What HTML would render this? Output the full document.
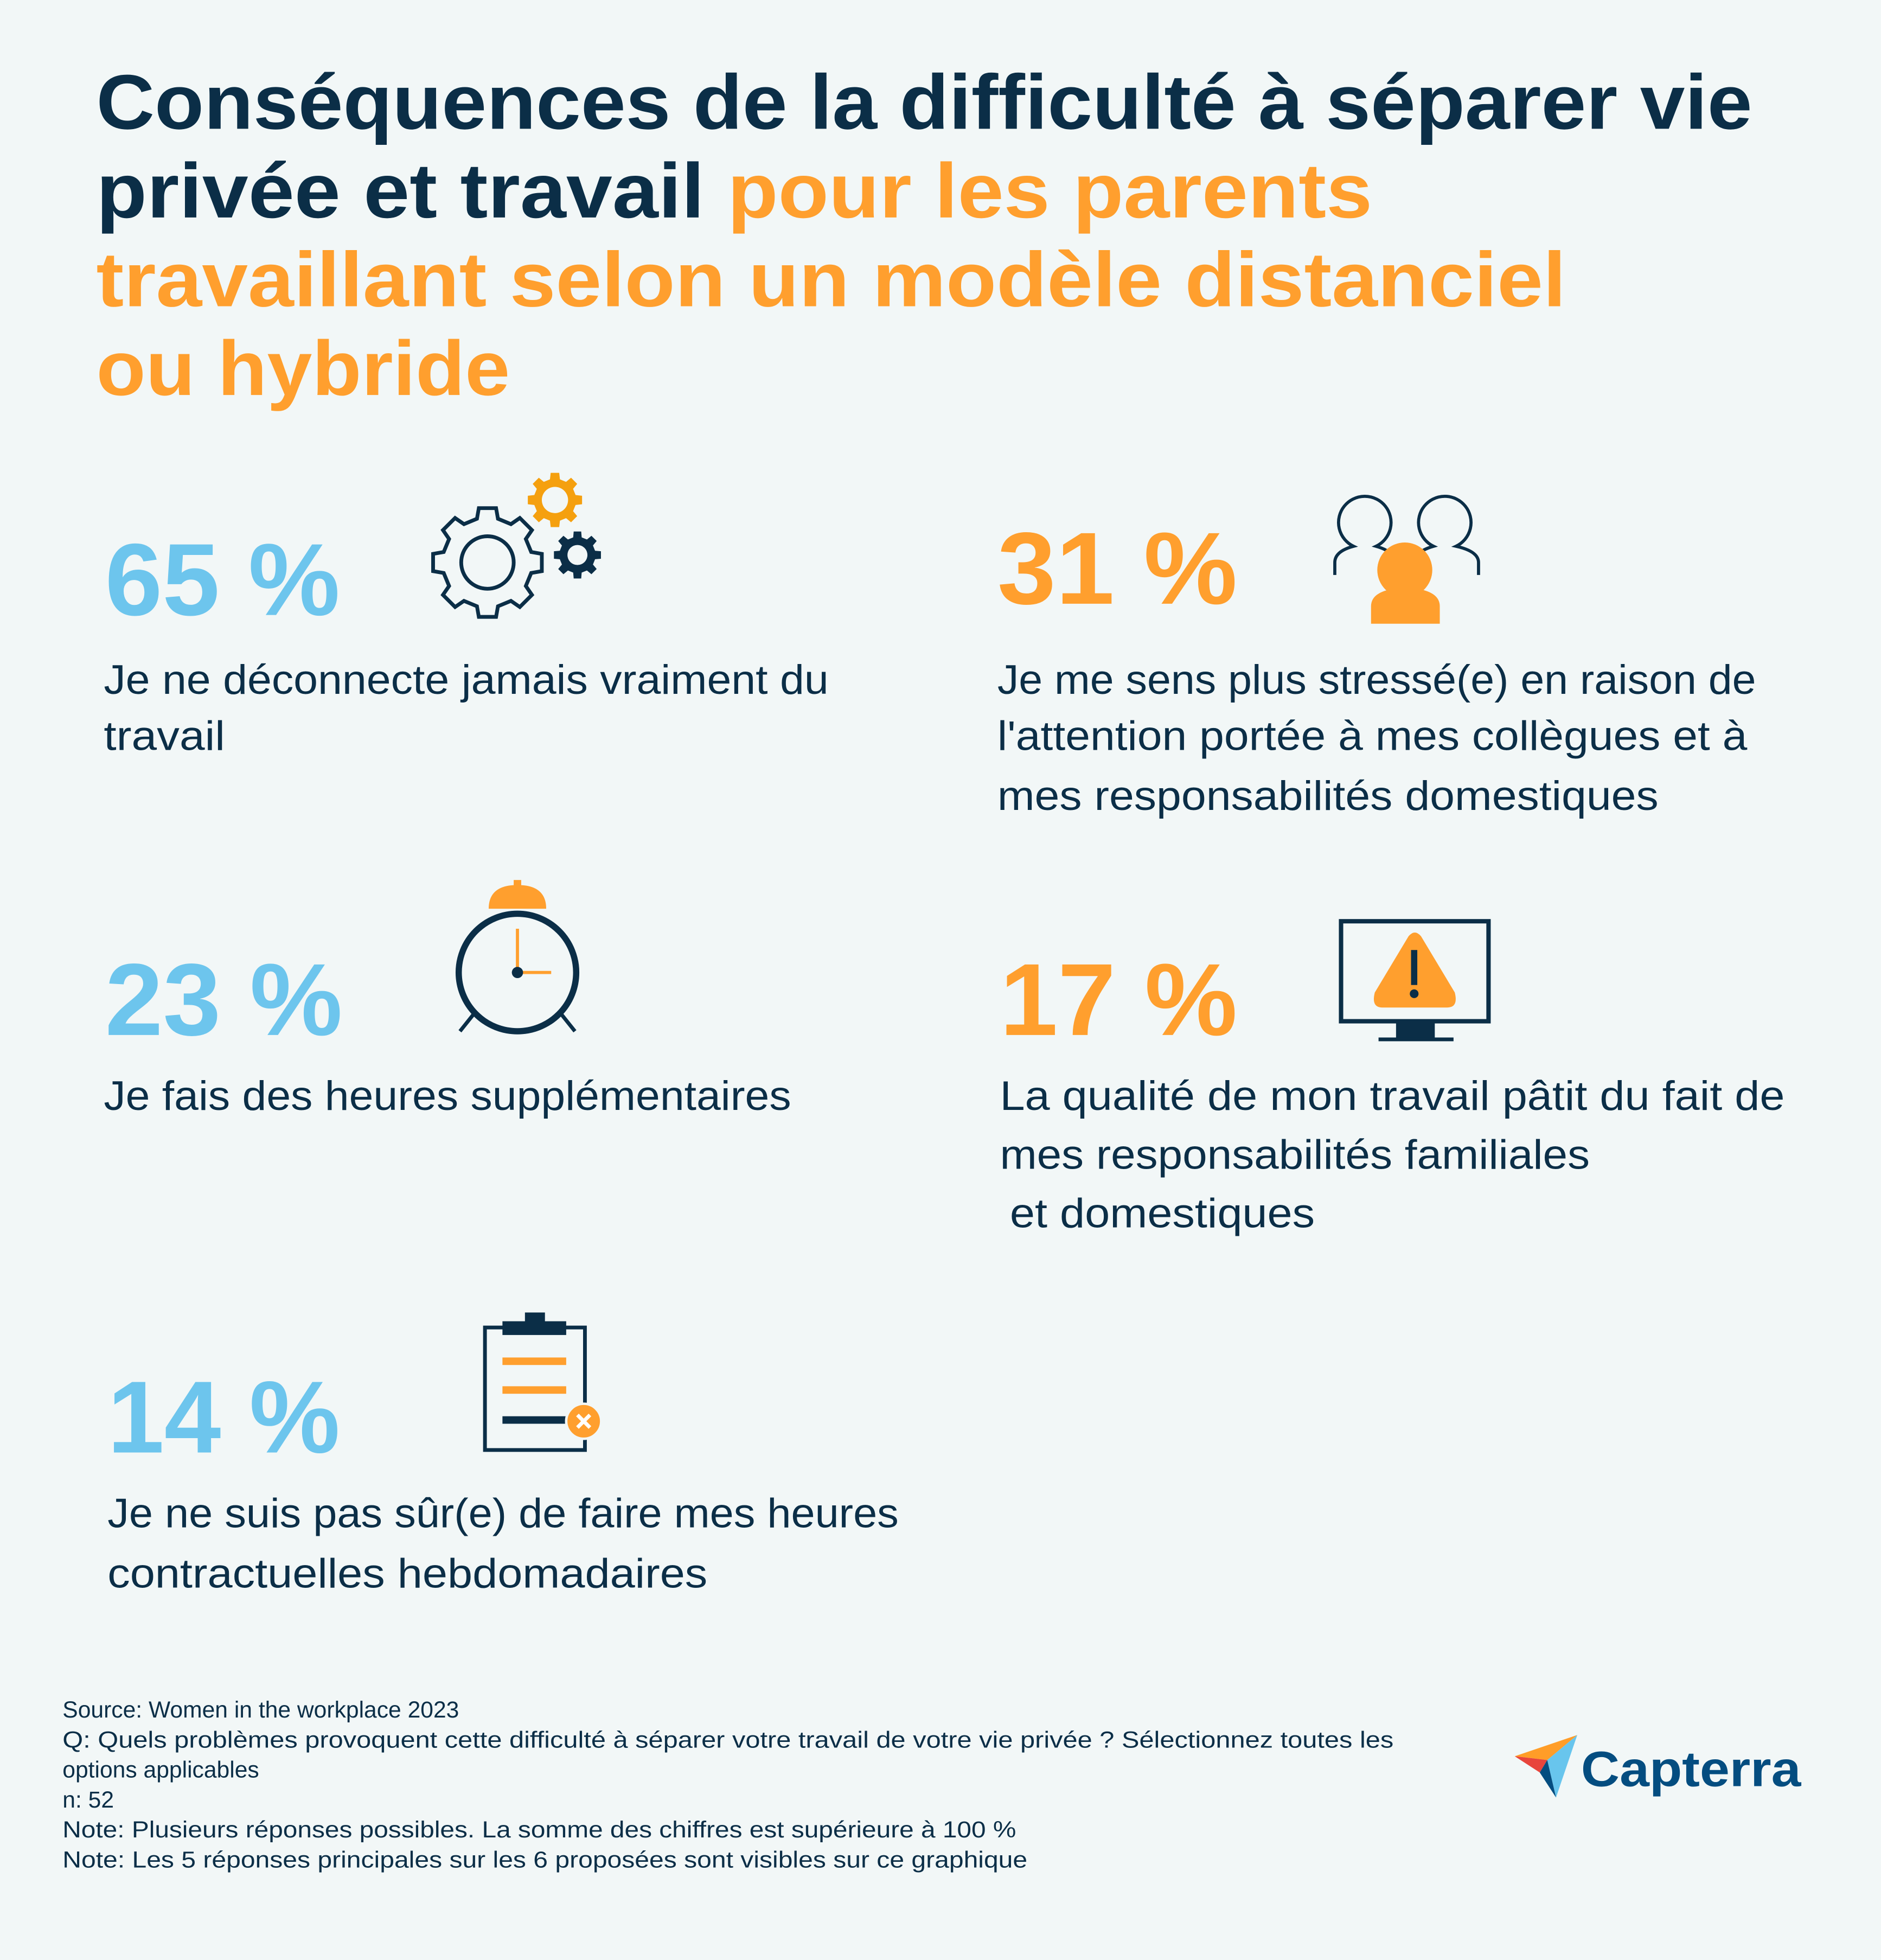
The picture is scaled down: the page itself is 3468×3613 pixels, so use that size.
<!DOCTYPE html>
<html><head><meta charset="utf-8"><style>
html,body{margin:0;padding:0;background:#f2f7f7;}
svg{display:block}
text{font-family:"Liberation Sans",sans-serif}
</style></head><body>
<svg id="root" width="3468" height="3613" viewBox="0 0 1505 1568" xmlns="http://www.w3.org/2000/svg">
<rect width="1505" height="1568" fill="#f2f7f7"/>
<g font-weight="bold" font-size="62">
<text x="77" y="103" fill="#0b2e47" textLength="1325" lengthAdjust="spacingAndGlyphs">Conséquences de la difficulté à séparer vie</text>
<text x="77" y="174" textLength="1021" lengthAdjust="spacingAndGlyphs"><tspan fill="#0b2e47">privée et travail </tspan><tspan fill="#ff9f2e">pour les parents</tspan></text>
<text x="77" y="245" fill="#ff9f2e" textLength="1176" lengthAdjust="spacingAndGlyphs">travaillant selon un modèle distanciel</text>
<text x="77" y="316" fill="#ff9f2e" textLength="331" lengthAdjust="spacingAndGlyphs">ou hybride</text>
</g>

<g font-weight="bold" font-size="82">
<text x="84" y="492" fill="#6dc5ed" textLength="188" lengthAdjust="spacingAndGlyphs">65 %</text>
<text x="798" y="483" fill="#ff9f2e" textLength="192" lengthAdjust="spacingAndGlyphs">31 %</text>
<text x="84" y="828" fill="#6dc5ed" textLength="190" lengthAdjust="spacingAndGlyphs">23 %</text>
<text x="800" y="828" fill="#ff9f2e" textLength="190" lengthAdjust="spacingAndGlyphs">17 %</text>
<text x="86" y="1162" fill="#6dc5ed" textLength="186" lengthAdjust="spacingAndGlyphs">14 %</text>
</g>

<g font-size="33" fill="#0b2e47">
<g>
<text x="83" y="555" textLength="580" lengthAdjust="spacingAndGlyphs">Je ne déconnecte jamais vraiment du</text>
<text x="83" y="600" textLength="97" lengthAdjust="spacingAndGlyphs">travail</text></g>
<g>
<text x="798" y="555" textLength="607" lengthAdjust="spacingAndGlyphs">Je me sens plus stressé(e) en raison de</text>
<text x="798" y="600" textLength="600" lengthAdjust="spacingAndGlyphs">l'attention portée à mes collègues et à</text>
<text x="798" y="648" textLength="529" lengthAdjust="spacingAndGlyphs">mes responsabilités domestiques</text></g>
<g>
<text x="83" y="888" textLength="550" lengthAdjust="spacingAndGlyphs">Je fais des heures supplémentaires</text></g>
<g>
<text x="800" y="888" textLength="628" lengthAdjust="spacingAndGlyphs">La qualité de mon travail pâtit du fait de</text>
<text x="800" y="935" textLength="472" lengthAdjust="spacingAndGlyphs">mes responsabilités familiales</text>
<text x="808" y="982" textLength="244" lengthAdjust="spacingAndGlyphs">et domestiques</text></g>
<g>
<text x="86" y="1222" textLength="633" lengthAdjust="spacingAndGlyphs">Je ne suis pas sûr(e) de faire mes heures</text>
<text x="86" y="1270" textLength="480" lengthAdjust="spacingAndGlyphs">contractuelles hebdomadaires</text></g>
</g>

<g id="gears"></g>

<g fill="none" stroke="#0b2e47" stroke-width="2.5">
<path d="M1068,460 V450 Q1068,441 1083,437 A21,21 0 1 1 1101,437 Q1108,439 1112,442"/>
<path d="M1183,460 V450 Q1183,441 1165,437 A21,21 0 1 0 1147,437 Q1140,439 1136,442"/>
<circle cx="1124" cy="456" r="22" fill="#ff9f2e" stroke="none"/>
<path d="M1097,499 V485 Q1097,474 1115,471 H1134 Q1152,474 1152,485 V499 Z" fill="#ff9f2e" stroke="none"/>
</g>

<g>
<path d="M391,727 Q391,708 414,708 Q437,708 437,727 Z" fill="#ff9f2e"/>
<rect x="411" y="704" width="6" height="6" fill="#ff9f2e"/>
<line x1="380" y1="810" x2="368" y2="825" stroke="#0b2e47" stroke-width="3"/>
<line x1="448" y1="810" x2="460" y2="825" stroke="#0b2e47" stroke-width="3"/>
<circle cx="414" cy="778" r="47" fill="none" stroke="#0b2e47" stroke-width="5"/>
<line x1="414" y1="778" x2="414" y2="743" stroke="#ff9f2e" stroke-width="2.5"/>
<line x1="414" y1="778" x2="441" y2="778" stroke="#ff9f2e" stroke-width="2.5"/>
<circle cx="414" cy="778" r="4.5" fill="#0b2e47"/>
</g>

<g>
<rect x="1073" y="737" width="118" height="80" fill="none" stroke="#0b2e47" stroke-width="3.5"/>
<rect x="1117" y="817" width="31" height="15" fill="#0b2e47"/>
<rect x="1103" y="830" width="60" height="3" fill="#0b2e47"/>
<path d="M1127,749 Q1132,743 1137,749 L1164,794 Q1167,806 1158,806 H1106 Q1097,806 1100,794 Z" fill="#ff9f2e"/>
<rect x="1129" y="760" width="5" height="28" fill="#0b2e47"/>
<circle cx="1131.5" cy="795" r="3.5" fill="#0b2e47"/>
</g>

<g>
<rect x="388" y="1062" width="80" height="98" fill="none" stroke="#0b2e47" stroke-width="3"/>
<rect x="402" y="1057" width="51" height="11" fill="#0b2e47"/>
<rect x="420" y="1050" width="16" height="9" fill="#0b2e47"/>
<rect x="402" y="1086" width="51" height="6" fill="#ff9f2e"/>
<rect x="402" y="1109" width="51" height="6" fill="#ff9f2e"/>
<rect x="402" y="1133" width="51" height="6" fill="#0b2e47"/>
<circle cx="467" cy="1137" r="14" fill="#ff9f2e" stroke="#f2f7f7" stroke-width="2"/>
<path d="M462,1132 L472,1142 M472,1132 L462,1142" stroke="#fff" stroke-width="3"/>
</g>

<g font-size="18.5" fill="#0b2e47">
<text x="50" y="1374">Source: Women in the workplace 2023</text>
<text x="50" y="1398" textLength="1065" lengthAdjust="spacingAndGlyphs">Q:  Quels problèmes provoquent cette difficulté à séparer votre travail de votre vie privée ? Sélectionnez toutes les</text>
<text x="50" y="1422">options applicables</text>
<text x="50" y="1446">n: 52</text>
<text x="50" y="1470" textLength="763" lengthAdjust="spacingAndGlyphs">Note: Plusieurs réponses possibles. La somme des chiffres est supérieure à 100 %</text>
<text x="50" y="1494" textLength="772" lengthAdjust="spacingAndGlyphs">Note: Les 5 réponses principales sur les 6 proposées sont visibles sur ce graphique</text>
</g>

<g>
<path d="M1212,1405 L1262,1388 L1238,1408 Z" fill="#ff9d28"/>
<path d="M1212,1405 L1238,1408 L1232,1418 Z" fill="#e8453c"/>
<path d="M1238,1408 L1262,1388 L1245,1438 Z" fill="#68c5ed"/>
<path d="M1238,1408 L1245,1438 L1232,1418 Z" fill="#044d80"/>
<text x="1265" y="1429" font-size="40" font-weight="bold" fill="#044d80" textLength="176" lengthAdjust="spacingAndGlyphs">Capterra</text>
</g>
</svg>
<script>
function gearPath(cx,cy,rO,rI,n){
  var d='';var step=Math.PI*2/n;
  for(var i=0;i<n;i++){
    var a=i*step-Math.PI/2;
    var pts=[[rI,a-step*0.3],[rO,a-step*0.2],[rO,a+step*0.2],[rI,a+step*0.3]];
    pts.forEach(function(p,j){
      var x=cx+p[0]*Math.cos(p[1]),y=cy+p[0]*Math.sin(p[1]);
      d+=(i===0&&j===0?'M':'L')+x.toFixed(1)+','+y.toFixed(1);
    });
  }
  return d+'Z';
}
var g=document.getElementById('gears');
var ns='http://www.w3.org/2000/svg';
var big=document.createElementNS(ns,'path');


big.setAttribute('d',gearPath(390,450,44,36,8));
big.setAttribute('fill','none');big.setAttribute('stroke','#0b2e47');big.setAttribute('stroke-width','3');
g.appendChild(big);
var bc=document.createElementNS(ns,'circle');


bc.setAttribute('cx',390);bc.setAttribute('cy',450);bc.setAttribute('r',21);
bc.setAttribute('fill','none');bc.setAttribute('stroke','#0b2e47');bc.setAttribute('stroke-width','3');
g.appendChild(bc);
var og=document.createElementNS(ns,'path');


og.setAttribute('d',gearPath(444,400,22,17,8)+' M454.5,400 A10.5,10.5 0 1 0 433.5,400 A10.5,10.5 0 1 0 454.5,400Z');
og.setAttribute('fill','#f5a00f');og.setAttribute('fill-rule','evenodd');
g.appendChild(og);
var dg=document.createElementNS(ns,'path');


dg.setAttribute('d',gearPath(462,444,19,14.5,8)+' M470,444 A8,8 0 1 0 454,444 A8,8 0 1 0 470,444Z');
dg.setAttribute('fill','#0b2e47');dg.setAttribute('fill-rule','evenodd');
g.appendChild(dg);
</script>
</body></html>
